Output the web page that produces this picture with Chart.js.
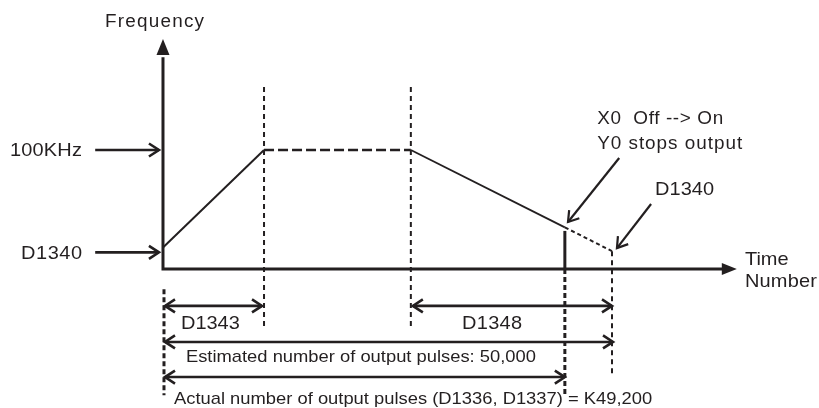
<!DOCTYPE html>
<html>
<head>
<meta charset="utf-8">
<script src="https://cdn.jsdelivr.net/npm/chart.js@4.4.1/dist/chart.umd.min.js"></script>
<style>
  html, body { margin: 0; padding: 0; background: #fff; }
  #wrap { width: 819px; height: 408px; }
</style>
</head>
<body>
<div id="wrap"><canvas id="pulse-chart"></canvas></div>
<script>
// time: 0 = start, 100 = planned end of output (estimated 50,000 pulses)
var times = [0, 22.5, 55.2, 89.5, 100];   // start, accel end, decel start, X0 on, planned end
var freqs = [18, 100, 100, 35, 15];       // KHz at those times
var stopDrop = 32;                         // top of the solid stop line at X0 on
var guideTop = 153, guideBottoms = [-106, -50, -50, -106, -88];
var dimRows = [-31, -61.3, -90.8];        // y of the dimension arrows
var INK = "#231f20";
var FONT = "'Liberation Sans', Arial, sans-serif";

function seg(i, j) {
  return [{ x: times[i], y: freqs[i] }, { x: times[j], y: freqs[j] }];
}

// labels: text, t, f (baseline), size, target width
var labels = [
  ["Frequency", -12.9, 203.4, 17.5, 99],
  ["100KHz", -34.1, 95.0, 18.5, 72],
  ["D1340", -31.6, 8.4, 18.5, 61],
  ["X0  Off --> On", 96.7, 121.8, 17.5, 126],
  ["Y0 stops output", 96.7, 100.8, 17.5, 145],
  ["D1340", 109.6, 62.2, 18.5, 59],
  ["Time", 129.6, 3.4, 18.5, 43],
  ["Number", 129.6, -15.1, 18.5, 72],
  ["D1343", 4.0, -50.4, 18.5, 58],
  ["D1348", 66.6, -50.4, 18.5, 60],
  ["Estimated number of output pulses: 50,000", 5.1, -78.2, 17, 350],
  ["Actual number of output pulses (D1336, D1337) = K49,200", 2.45, -113.4, 17, 474]
];

function chevron(ctx, x, y, ang, len, half) {
  var bx = x - Math.cos(ang) * len, by = y - Math.sin(ang) * len;
  var px = -Math.sin(ang) * half, py = Math.cos(ang) * half;
  ctx.beginPath();
  ctx.moveTo(bx + px, by + py);
  ctx.lineTo(x, y);
  ctx.lineTo(bx - px, by - py);
  ctx.stroke();
}

function arrowLine(ctx, x1, y1, x2, y2, both, w) {
  ctx.setLineDash([]);
  ctx.lineWidth = w;
  ctx.beginPath(); ctx.moveTo(x1, y1); ctx.lineTo(x2, y2); ctx.stroke();
  var ang = Math.atan2(y2 - y1, x2 - x1);
  chevron(ctx, x2, y2, ang, 10, 6.5);
  if (both) chevron(ctx, x1, y1, ang + Math.PI, 10, 6.5);
}

var diagram = {
  id: "diagram",
  afterDraw: function (chart) {
    var ctx = chart.ctx, xs = chart.scales.x, ys = chart.scales.y;
    var X = function (v) { return xs.getPixelForValue(v); };
    var Y = function (v) { return ys.getPixelForValue(v); };
    ctx.save();
    ctx.strokeStyle = INK; ctx.fillStyle = INK;
    ctx.lineCap = "butt";

    // axes
    ctx.lineWidth = 3;
    ctx.beginPath();
    ctx.moveTo(X(0), Y(178)); ctx.lineTo(X(0), Y(0)); ctx.lineTo(X(125), Y(0));
    ctx.stroke();
    ctx.beginPath();
    ctx.moveTo(X(0), Y(193.3)); ctx.lineTo(X(0) - 6.5, Y(193.3) + 16); ctx.lineTo(X(0) + 6.5, Y(193.3) + 16);
    ctx.closePath(); ctx.fill();
    ctx.beginPath();
    ctx.moveTo(X(127.8), Y(0)); ctx.lineTo(X(127.8) - 15, Y(0) - 6); ctx.lineTo(X(127.8) - 15, Y(0) + 6);
    ctx.closePath(); ctx.fill();

    // guide lines
    ctx.lineWidth = 2; ctx.setLineDash([5, 4]);
    [1, 2].forEach(function (i) {
      ctx.beginPath(); ctx.moveTo(X(times[i]), Y(guideTop)); ctx.lineTo(X(times[i]), Y(guideBottoms[i])); ctx.stroke();
    });
    ctx.beginPath(); ctx.moveTo(X(times[4]), Y(freqs[4])); ctx.lineTo(X(times[4]), Y(guideBottoms[4])); ctx.stroke();
    ctx.lineWidth = 3; ctx.setLineDash([5, 3]);
    ctx.beginPath(); ctx.moveTo(X(times[0]) + 1, Y(-17)); ctx.lineTo(X(times[0]) + 1, Y(guideBottoms[0])); ctx.stroke();
    ctx.beginPath(); ctx.moveTo(X(times[3]), Y(0)); ctx.lineTo(X(times[3]), Y(guideBottoms[3])); ctx.stroke();

    // dimension arrows
    arrowLine(ctx, X(times[0]) + 2, Y(dimRows[0]), X(times[1]) - 2, Y(dimRows[0]), true, 2.6);
    arrowLine(ctx, X(times[2]) + 2, Y(dimRows[0]), X(times[4]), Y(dimRows[0]), true, 2.6);
    arrowLine(ctx, X(times[0]) + 2, Y(dimRows[1]), X(times[4]) + 1, Y(dimRows[1]), true, 2.6);
    arrowLine(ctx, X(times[0]) + 2, Y(dimRows[2]), X(times[3]), Y(dimRows[2]), true, 2.6);

    // side pointers
    arrowLine(ctx, X(-15.1), Y(100), X(-0.9), Y(100), false, 2.6);
    arrowLine(ctx, X(-15.1), Y(14), X(-0.9), Y(14), false, 2.6);
    arrowLine(ctx, X(101.6), Y(93.3), X(90.2), Y(39.5), false, 2.2);
    arrowLine(ctx, X(108.7), Y(54.6), X(101.1), Y(17.6), false, 2.2);

    // labels: slight horizontal stretch, remaining width as letter spacing
    ctx.textBaseline = "alphabetic"; ctx.textAlign = "left";
    var sx = 1.08;
    labels.forEach(function (l) {
      ctx.font = l[3] + "px " + FONT;
      ctx.letterSpacing = "0px";
      var w = ctx.measureText(l[0]).width * sx;
      var sp = Math.max(0, (l[4] - w) / sx / (l[0].length - 1));
      ctx.letterSpacing = sp.toFixed(2) + "px";
      ctx.save();
      ctx.translate(X(l[1]), Y(l[2]));
      ctx.scale(sx, 1);
      ctx.fillText(l[0], 0, 0);
      ctx.restore();
    });
    ctx.letterSpacing = "0px";
    ctx.restore();
  }
};

new Chart(document.getElementById("pulse-chart"), {
  type: "scatter",
  data: {
    datasets: [
      { data: seg(0, 1), borderWidth: 2 },
      { data: seg(1, 2), borderWidth: 2.6, borderDash: [10, 4] },
      { data: seg(2, 3), borderWidth: 1.8 },
      { data: seg(3, 4), borderWidth: 2, borderDash: [4, 3] },
      { data: [{ x: times[3], y: 0 }, { x: times[3], y: stopDrop }], borderWidth: 3 }
    ].map(function (d) {
      d.showLine = true; d.pointRadius = 0; d.borderColor = INK;
      d.clip = false; d.fill = false;
      return d;
    })
  },
  options: {
    responsive: true,
    maintainAspectRatio: false,
    animation: false,
    layout: { padding: 0 },
    plugins: { legend: { display: false }, tooltip: { enabled: false }, title: { display: false } },
    scales: {
      x: { type: "linear", display: false, min: -36.3, max: 146.1 },
      y: { type: "linear", display: false, min: -116.8, max: 226.05 }
    }
  },
  plugins: [diagram]
});
</script>
</body>
</html>
